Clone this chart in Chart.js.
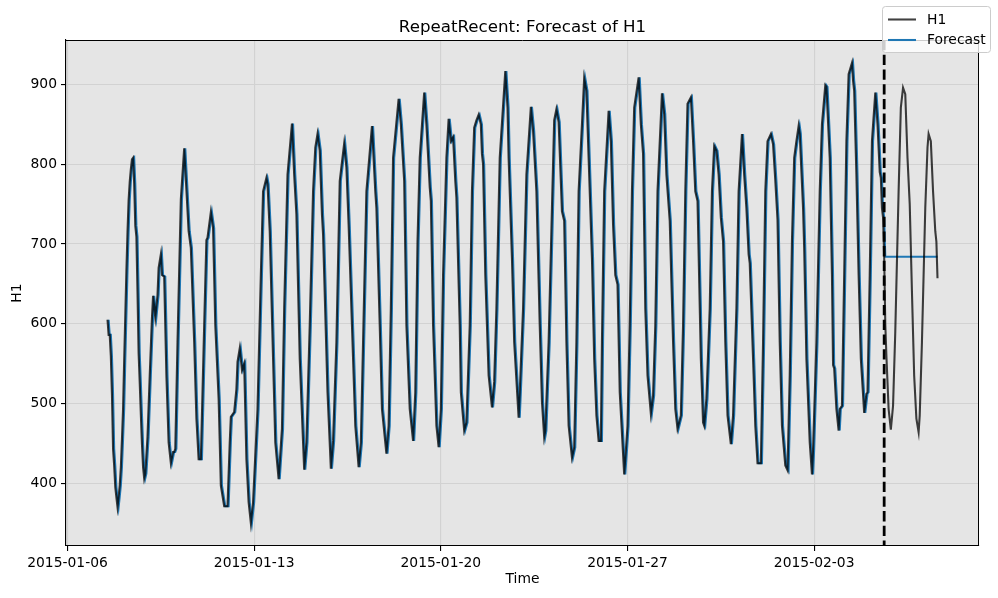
<!DOCTYPE html>
<html><head><meta charset="utf-8">
<script src="https://cdn.jsdelivr.net/npm/chart.js@4/dist/chart.umd.min.js"></script>
<style>html,body{margin:0;padding:0;background:#fff}canvas{display:block}</style>
</head><body>
<canvas id="c" width="998" height="598"></canvas>
<script>
// ---------------- data ----------------
const modelName = 'RepeatRecent';
const seriesName = 'H1';
const seriesStart = '2015-01-07T12:00:00Z';   // hour 0 of the series
// training part: hour offset from seriesStart, value
const trainHours = [
  0,1,2,3,4,5,6,7,8,9,10,11,12,13,14,15,16,17,18,19,20,21,22,23,
  24,25,26,27,28,29,30,31,32,33,34,36,38,40,41,43,45,46,48,49,51,53,55,57,59,60,61,
  63,66,69,73,75,78,80,82,84,87,89,90,93,95,97,100,102,105,108,110,111,114,116,117,119,121,123,125,127,129,131,
  135,138,140,143,144,146,149,151,154,157,159,162,166,168,170,173,176,177,179,182,185,187,189,191,193,194,198,201,
  203,206,209,213,215,217,220,223,226,228,230,233,238,241,242,245,247,251,253,255,257,262,264,267,
  269,272,275,277,279,281,285,287,290,291,293,296,298,300,302,305,307,309,311,313,314,317,318,321,323,326,328,330,332,334,336,337,338,
  340,343,346,348,350,353,358,360,361,364,366,370,371,374,377,381,383,386,389,391,393,394,397,400,402,404,406,409,411,
  413,415,418,420,422,424,427,429,431,433,436,438,440,442,444,445,447,451,453,455,457,459,461,465,467,468,470,472,474,478,480,482,484,
  486,489,491,493,495,499,501,503,506,509,511,513,516,518,520,522,525,527,529,531,534,536,537,539,542,544,546,548,550,552,554,556,
  558,561,563,566,568,571,573,575,577,578,581,583,585,588,590,592,594,597,599,601,603,605,607,610,612,614,616,618,620,622,623,626,627,629,
  632,634,635,638,641,643,646,647,650,652,653,654,656,658,659,661,663,665,667,670,671,672,674,676,678,681,683,684,686,688,691,693,695,696,697,698,699
];
const trainValues = [
  605,586,586,559,511,443,422,395,382,370,383,397,420,455,493,554,610,666,715,755,778,794,806,808,
  776,723,709,639,563,526,486,449,420,406,412,458,535,607,635,608,636,670,687,661,659,535,451,425,439,439,443,
  577,756,820,716,695,577,481,430,430,598,705,708,740,720,598,506,397,371,371,451,483,489,518,552,569,542,550,430,376,350,376,
  493,661,766,783,775,716,556,451,405,468,619,787,851,787,737,556,451,417,451,598,766,821,838,817,737,712,514,418,
  453,577,779,826,796,724,598,472,420,451,577,766,848,766,745,598,493,437,472,619,808,882,850,779,
  598,493,453,514,703,808,890,850,771,754,598,472,445,493,661,808,857,829,834,779,758,598,514,466,476,598,766,846,855,862,850,813,800,
  661,535,495,527,619,808,917,871,808,682,577,482,514,619,787,872,842,766,598,502,458,466,577,745,855,869,853,741,729,
  577,472,432,445,577,766,850,908,892,808,682,556,485,453,453,577,766,867,829,724,661,649,514,411,451,472,600,766,871,909,850,813,619,
  535,487,510,598,766,889,863,787,729,577,493,468,485,598,766,876,884,829,766,754,556,476,472,506,619,766,823,817,787,733,703,577,
  485,449,485,619,766,838,787,745,687,676,556,472,425,425,577,766,829,838,825,780,730,577,472,422,416,535,703,808,829,848,838,745,695,556,
  451,411,443,577,766,850,899,897,808,661,548,544,493,466,493,497,661,829,913,927,905,892,787,661,556,488,512,514,661,829,890,850,790,783,745,733,684
];
// held-out part of H1
const testHours = [700,701,703,705,707,709,712,714,716,718,720,722,724,726,728,730,731,733,736,738,739,741,743,745,746,747];
const testValues = [600,560,493,467,497,590,766,871,896,888,808,750,640,535,481,464,485,577,745,821,838,829,766,716,703,657];
// 48-step forecast (repeat of the most recent value)
const forecastHours = [700,701,702,703,704,705,706,707,708,709,710,711,712,713,714,715,716,717,718,719,720,721,722,723,
  724,725,726,727,728,729,730,731,732,733,734,735,736,737,738,739,740,741,742,743,744,745,746,747];
const forecastValues = [684,684,684,684,684,684,684,684,684,684,684,684,684,684,684,684,684,684,684,684,684,684,684,684,
  684,684,684,684,684,684,684,684,684,684,684,684,684,684,684,684,684,684,684,684,684,684,684,684];
const xTickLabels = ['2015-01-06','2015-01-13','2015-01-20','2015-01-27','2015-02-03'];
const yTicks = [400,500,600,700,800,900];

// ---------------- derived ----------------
const hourOf = d => (Date.parse(d + 'T00:00:00Z') - Date.parse(seriesStart)) / 3600000;
const xTickHours = xTickLabels.map(hourOf);
const allHours = trainHours.concat(testHours);
const allValues = trainValues.concat(testValues);
const h1Points = allHours.map((h, i) => ({x: h, y: allValues[i]}));
// in-sample one-step predictions (previous value) followed by the forecast
const fcPoints = trainHours.map((h, i) => ({x: h + 1, y: trainValues[i]}))
  .concat(forecastHours.map((h, i) => ({x: h, y: forecastValues[i]})));
const xLo = Math.min(...allHours), xHi = Math.max(...allHours);
const yLo = Math.min(...allValues, ...forecastValues), yHi = Math.max(...allValues, ...forecastValues);
const xPad = (xHi - xLo) * 0.05, yPad = (yHi - yLo) * 0.05;
const cutHour = trainHours[trainHours.length - 1];

const PT = 100 / 72;             // points -> pixels
const FONT = 'DejaVu Sans';
const FS = 10 * PT;
Chart.defaults.font.family = FONT;
Chart.defaults.font.size = FS;
Chart.defaults.color = '#000';
const GRID = '#d2d2d2';
const H1_COLOR = 'rgba(0,0,0,0.75)';
const FC_COLOR = '#1f77b4';
const LW = 1.5 * PT;

const decor = {
  id: 'decor',
  beforeDraw(chart) {
    const {ctx, chartArea: a} = chart;
    ctx.save();
    ctx.fillStyle = '#fff';
    ctx.fillRect(0, 0, chart.width, chart.height);
    ctx.fillStyle = '#e5e5e5';
    ctx.fillRect(a.left, a.top, a.right - a.left, a.bottom - a.top);
    ctx.restore();
  },
  afterDatasetsDraw(chart) {
    const {ctx, chartArea: a, scales} = chart;
    const x = scales.x.getPixelForValue(cutHour);
    ctx.save();
    ctx.strokeStyle = '#000';
    ctx.lineWidth = 2 * PT;
    ctx.setLineDash([3.7 * 2 * PT, 1.6 * 2 * PT]);
    ctx.beginPath();
    ctx.moveTo(x, a.top);
    ctx.lineTo(x, a.bottom);
    ctx.stroke();
    ctx.restore();
  },
  afterDraw(chart) {
    const {ctx, chartArea: a} = chart;
    ctx.save();
    // top & right spines
    ctx.strokeStyle = '#000';
    ctx.lineWidth = 1;
    ctx.beginPath();
    ctx.moveTo(a.left, a.top + 0.5); ctx.lineTo(a.right, a.top + 0.5);
    ctx.moveTo(a.right - 0.5, a.top); ctx.lineTo(a.right - 0.5, a.bottom);
    ctx.stroke();
    // title
    ctx.fillStyle = '#000';
    ctx.font = (12 * PT) + 'px "' + FONT + '"';
    ctx.textAlign = 'center';
    ctx.textBaseline = 'alphabetic';
    ctx.fillText(modelName + ': Forecast of ' + seriesName, (a.left + a.right) / 2, a.top - 8.3);
    // legend (figure level, upper right)
    const ds = chart.data.datasets;
    const bx = 882.5, by = 6.5, bw = 108, bh = 46, r = 3;
    ctx.beginPath();
    ctx.moveTo(bx + r, by);
    ctx.arcTo(bx + bw, by, bx + bw, by + bh, r);
    ctx.arcTo(bx + bw, by + bh, bx, by + bh, r);
    ctx.arcTo(bx, by + bh, bx, by, r);
    ctx.arcTo(bx, by, bx + bw, by, r);
    ctx.closePath();
    ctx.fillStyle = 'rgba(255,255,255,0.8)';
    ctx.fill();
    ctx.strokeStyle = '#cccccc';
    ctx.lineWidth = 1;
    ctx.stroke();
    ctx.font = FS + 'px "' + FONT + '"';
    ctx.textAlign = 'left';
    ctx.textBaseline = 'middle';
    ds.forEach((d, i) => {
      const yy = 19.5 + i * 20.5;
      ctx.strokeStyle = d.borderColor;
      ctx.lineWidth = d.borderWidth;
      ctx.beginPath();
      ctx.moveTo(888, yy); ctx.lineTo(916, yy);
      ctx.stroke();
      ctx.fillStyle = '#000';
      ctx.fillText(d.label, 927, yy + 0.5);
    });
    ctx.restore();
  }
};

new Chart(document.getElementById('c'), {
  type: 'line',
  data: {
    datasets: [
      {label: seriesName, data: h1Points, borderColor: H1_COLOR, borderWidth: LW,
       pointRadius: 0, tension: 0, fill: false},
      {label: 'Forecast', data: fcPoints, borderColor: FC_COLOR, borderWidth: LW,
       pointRadius: 0, tension: 0, fill: false}
    ]
  },
  options: {
    responsive: false,
    animation: false,
    devicePixelRatio: 1,
    layout: {padding: {left: 0, right: 19, top: 40, bottom: 0}},
    plugins: {legend: {display: false}, title: {display: false}, tooltip: {enabled: false}},
    scales: {
      x: {
        type: 'linear', min: xLo - xPad, max: xHi + xPad,
        afterBuildTicks: s => { s.ticks = xTickHours.map(v => ({value: v})); },
        afterFit: s => { s.height = 52; },
        ticks: {autoSkip: false, maxRotation: 0, minRotation: 0, padding: 4,
                callback: (v, i) => xTickLabels[i]},
        grid: {color: GRID, lineWidth: 0.8 * PT, drawTicks: true, tickLength: 5, tickColor: '#000', tickWidth: 0.8 * PT},
        border: {color: '#000', width: 0.8 * PT},
        title: {display: true, text: 'Time', padding: {top: 0, bottom: 10}}
      },
      y: {
        type: 'linear', min: yLo - yPad, max: yHi + yPad,
        afterBuildTicks: s => { s.ticks = yTicks.map(v => ({value: v})); },
        afterFit: s => { s.width = 66; },
        ticks: {padding: 4, callback: v => String(v)},
        grid: {color: GRID, lineWidth: 0.8 * PT, drawTicks: true, tickLength: 5, tickColor: '#000', tickWidth: 0.8 * PT},
        border: {color: '#000', width: 0.8 * PT},
        title: {display: true, text: seriesName, padding: {top: 9, bottom: 0}}
      }
    }
  },
  plugins: [decor]
});
</script>
</body></html>
